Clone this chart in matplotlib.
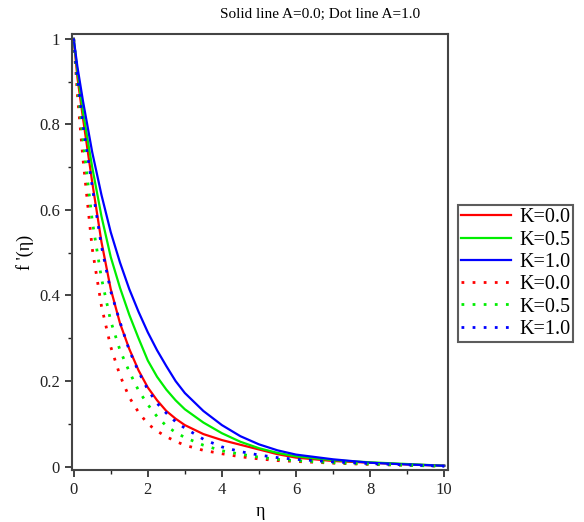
import matplotlib
matplotlib.use("Agg")
import matplotlib.pyplot as plt
from matplotlib.ticker import MultipleLocator

# valeurs
eta = [0, 0.1, 0.25, 0.5, 0.75, 1.0, 1.25, 1.5, 1.75, 2.0, 2.25, 2.5, 2.75, 3.0,
       3.5, 4.0, 4.5, 5.0, 5.5, 6.0, 7.0, 8.0, 9.0, 10.0]

# A = 0.0 (trait plein)
f_k00_a0 = [1.0, 0.91, 0.815, 0.665, 0.525, 0.415, 0.335, 0.275, 0.225, 0.185,
            0.155, 0.13, 0.112, 0.097, 0.076, 0.062, 0.051, 0.04, 0.029, 0.021,
            0.013, 0.009, 0.005, 0.002]
f_k05_a0 = [1.0, 0.925, 0.83, 0.70, 0.585, 0.49, 0.418, 0.355, 0.30, 0.248,
            0.21, 0.18, 0.155, 0.134, 0.103, 0.078, 0.058, 0.043, 0.032, 0.024,
            0.015, 0.01, 0.006, 0.002]
f_k10_a0 = [1.0, 0.935, 0.855, 0.735, 0.635, 0.548, 0.477, 0.415, 0.362, 0.314,
            0.272, 0.235, 0.2, 0.172, 0.13, 0.097, 0.071, 0.052, 0.038, 0.028,
            0.017, 0.009, 0.005, 0.002]

# A = 1.0 (pointillés)
f_k00_a1 = [1.0, 0.87, 0.72, 0.51, 0.375, 0.28, 0.213, 0.162, 0.127, 0.10,
            0.083, 0.07, 0.059, 0.05, 0.038, 0.03, 0.023, 0.018, 0.014, 0.012,
            0.008, 0.005, 0.003, 0.001]
f_k05_a1 = [1.0, 0.895, 0.765, 0.575, 0.44, 0.34, 0.272, 0.222, 0.178, 0.145,
            0.117, 0.095, 0.08, 0.068, 0.05, 0.037, 0.029, 0.022, 0.017, 0.014,
            0.009, 0.006, 0.003, 0.001]
f_k10_a1 = [1.0, 0.91, 0.80, 0.655, 0.515, 0.41, 0.338, 0.272, 0.222, 0.18,
            0.148, 0.125, 0.105, 0.09, 0.064, 0.046, 0.035, 0.027, 0.021, 0.017,
            0.011, 0.007, 0.004, 0.001]

labels = ["K=0.0", "K=0.5", "K=1.0"]
colors = ["#ff0000", "#00ee00", "#0000ff"]

plt.rcParams["font.family"] = ["Liberation Serif", "DejaVu Serif"]

fig = plt.figure(figsize=(5.84, 5.22), dpi=100)
ax = fig.add_axes([0.123, 0.0996, 0.644, 0.835])

for f, c, lab in zip([f_k00_a0, f_k05_a0, f_k10_a0], colors, labels):
    ax.plot(eta, f, color=c, lw=1.6, label=lab)
for f, c, lab in zip([f_k00_a1, f_k05_a1, f_k10_a1], colors, labels):
    ax.plot(eta, f, color=c, lw=2.0, linestyle=(0, (1, 3)), label=lab)

ax.set_xlim(-0.05, 10.1)
ax.set_ylim(-0.008, 1.011)
ax.xaxis.set_major_locator(MultipleLocator(2))
ax.xaxis.set_minor_locator(MultipleLocator(1))
ax.yaxis.set_major_locator(MultipleLocator(0.2))
ax.yaxis.set_minor_locator(MultipleLocator(0.1))
ax.xaxis.set_major_formatter(plt.FuncFormatter(lambda v, p: "%g" % v))
ax.yaxis.set_major_formatter(plt.FuncFormatter(lambda v, p: "%g" % v))
ax.tick_params(which="major", length=5, width=1.2, labelsize=12, colors="#222222")
ax.tick_params(which="minor", length=3, width=1.0, colors="#222222")
for s in ax.spines.values():
    s.set_linewidth(1.5)
    s.set_color("#444444")

ax.set_xlabel("η", fontsize=13, labelpad=4)
ax.set_ylabel("f '(η)", fontsize=13, labelpad=4)

fig.text(0.548, 0.972, "Solid line A=0.0; Dot line A=1.0", ha="center", va="center",
         fontsize=11)

leg = fig.legend(loc="upper left", bbox_to_anchor=(0.784, 0.607), fontsize=14.5,
                 handlelength=2.5, handletextpad=0.4, labelspacing=0.16,
                 borderpad=0.15, borderaxespad=0, frameon=True, fancybox=False)
leg.get_frame().set_edgecolor("#333333")
leg.get_frame().set_linewidth(1.5)

fig.savefig("out.png", dpi=100)
